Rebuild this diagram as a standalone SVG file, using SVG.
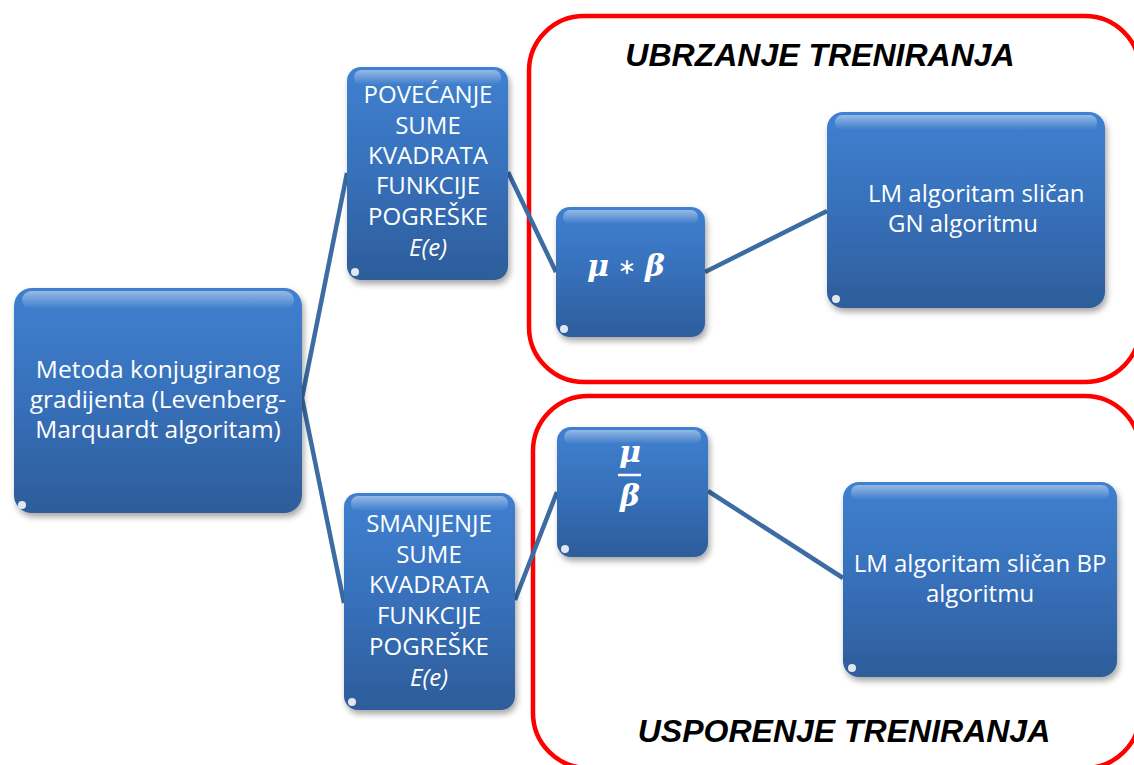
<svg xmlns="http://www.w3.org/2000/svg" width="1134" height="765" viewBox="0 0 1134 765">
<defs>
<linearGradient id="nodeFill" x1="0" y1="0" x2="0" y2="1">
<stop offset="0" stop-color="#3f80d0"/>
<stop offset="0.5" stop-color="#3770ba"/>
<stop offset="1" stop-color="#2d5d9a"/>
</linearGradient>
<linearGradient id="gloss" x1="0" y1="0" x2="0" y2="1">
<stop offset="0" stop-color="#ffffff" stop-opacity="0.45"/>
<stop offset="1" stop-color="#ffffff" stop-opacity="0"/>
</linearGradient>
<linearGradient id="edge" x1="0" y1="0" x2="1" y2="0">
<stop offset="0" stop-color="#9fd3ff" stop-opacity="0"/>
<stop offset="1" stop-color="#b8e2ff" stop-opacity="0.9"/>
</linearGradient>
<filter id="shadow" x="-10%" y="-10%" width="125%" height="125%">
<feGaussianBlur in="SourceAlpha" stdDeviation="3"/>
<feOffset dx="2" dy="4" result="b"/>
<feComponentTransfer><feFuncA type="linear" slope="0.35"/></feComponentTransfer>
<feMerge><feMergeNode/><feMergeNode in="SourceGraphic"/></feMerge>
</filter>
</defs>
<style>
.box{fill:url(#nodeFill);filter:url(#shadow)}
.gl{fill:url(#gloss)}
.ed{fill:none;stroke:url(#edge);stroke-width:3}
.dot{fill:#ffffff;opacity:0.85}
.t{font-family:"Open Sans","Noto Sans",sans-serif;font-size:24px;fill:#ffffff;text-anchor:middle}
.ti{font-style:italic}
.m{font-family:"DejaVu Serif","Liberation Serif",serif;font-weight:bold;font-style:italic;font-size:30px;fill:#ffffff;text-anchor:middle}
.op{font-family:"DejaVu Sans",sans-serif;font-size:22px;fill:#ffffff;text-anchor:middle}
.red{fill:none;stroke:#ff0000;stroke-width:4.5}
.title{font-family:"Liberation Sans",Arial,sans-serif;font-weight:bold;font-style:italic;font-size:32px;fill:#000000;text-anchor:middle}
.conn{stroke:#3d6ba3;stroke-width:4.5;fill:none;stroke-linecap:butt}
</style>

<g id="regions">
<rect class="red" x="529" y="16" width="611" height="366" rx="55"/>
<rect class="red" x="533" y="396" width="607" height="372" rx="55"/>
<text class="title" x="820" y="66">UBRZANJE TRENIRANJA</text>
<text class="title" x="844" y="742">USPORENJE TRENIRANJA</text>
</g>

<g id="connectors">
<polyline class="conn" points="347,173 302,398 344,603"/>
<line class="conn" x1="508" y1="172" x2="556" y2="272"/>
<line class="conn" x1="515" y1="600" x2="557" y2="492"/>
<line class="conn" x1="705" y1="272" x2="827" y2="211"/>
<line class="conn" x1="708" y1="491" x2="843" y2="578"/>
</g>

<g id="node-metoda">
<rect class="box" x="14" y="288" width="288" height="225" rx="18"/>
<rect class="gl" x="22" y="291" width="272" height="18" rx="9"/>
<path class="ed" d="M296,300 L296,500"/>
<circle class="dot" cx="22" cy="505" r="4"/>
<text class="t" x="158" y="378" style="font-size:24.5px">Metoda konjugiranog</text>
<text class="t" x="158" y="408" style="font-size:24.5px">gradijenta (Levenberg-</text>
<text class="t" x="158" y="438" style="font-size:24.5px">Marquardt algoritam)</text>
</g>

<g id="node-povecanje">
<rect class="box" x="347" y="67" width="161" height="213" rx="14"/>
<rect class="gl" x="354" y="70" width="147" height="15" rx="7"/>
<path class="ed" d="M503,78 L503,270"/>
<circle class="dot" cx="355" cy="272" r="4"/>
<text class="t" x="428" y="103">POVEĆANJE</text>
<text class="t" x="428" y="134">SUME</text>
<text class="t" x="428" y="164">KVADRATA</text>
<text class="t" x="428" y="194">FUNKCIJE</text>
<text class="t" x="428" y="225">POGREŠKE</text>
<text class="t ti" x="428" y="256">E(e)</text>
</g>

<g id="node-smanjenje">
<rect class="box" x="344" y="493" width="171" height="217" rx="14"/>
<rect class="gl" x="351" y="496" width="157" height="15" rx="7"/>
<path class="ed" d="M510,504 L510,700"/>
<circle class="dot" cx="352" cy="702" r="4"/>
<text class="t" x="429" y="532">SMANJENJE</text>
<text class="t" x="429" y="563">SUME</text>
<text class="t" x="429" y="593">KVADRATA</text>
<text class="t" x="429" y="624">FUNKCIJE</text>
<text class="t" x="429" y="655">POGREŠKE</text>
<text class="t ti" x="429" y="686">E(e)</text>
</g>

<g id="node-mu-puta-beta">
<rect class="box" x="556" y="207" width="149" height="130" rx="14"/>
<rect class="gl" x="563" y="210" width="135" height="14" rx="7"/>
<path class="ed" d="M700,218 L700,328"/>
<circle class="dot" cx="564" cy="329" r="4"/>
<text class="m" x="598" y="276">μ</text>
<text class="op" x="627" y="274">∗</text>
<text class="m" x="655" y="276">β</text>
</g>

<g id="node-mu-kroz-beta">
<rect class="box" x="557" y="427" width="151" height="130" rx="14"/>
<rect class="gl" x="564" y="430" width="137" height="14" rx="7"/>
<path class="ed" d="M703,438 L703,548"/>
<circle class="dot" cx="565" cy="549" r="4"/>
<text class="m" x="630" y="462">μ</text>
<line x1="618" y1="475" x2="641" y2="475" stroke="#ffffff" stroke-width="2.5"/>
<text class="m" x="630" y="506">β</text>
</g>

<g id="node-lm-gn">
<rect class="box" x="827" y="112" width="278" height="196" rx="16"/>
<rect class="gl" x="835" y="115" width="262" height="15" rx="7"/>
<path class="ed" d="M1100,124 L1100,298"/>
<circle class="dot" cx="836" cy="299" r="4"/>
<text class="t" x="868" y="202" style="text-anchor:start">LM algoritam sličan</text>
<text class="t" x="888" y="232" style="text-anchor:start">GN algoritmu</text>
</g>

<g id="node-lm-bp">
<rect class="box" x="843" y="482" width="274" height="195" rx="16"/>
<rect class="gl" x="851" y="485" width="258" height="15" rx="7"/>
<path class="ed" d="M1112,494 L1112,667"/>
<circle class="dot" cx="852" cy="668" r="4"/>
<text class="t" x="980" y="572">LM algoritam sličan BP</text>
<text class="t" x="980" y="602">algoritmu</text>
</g>
</svg>
